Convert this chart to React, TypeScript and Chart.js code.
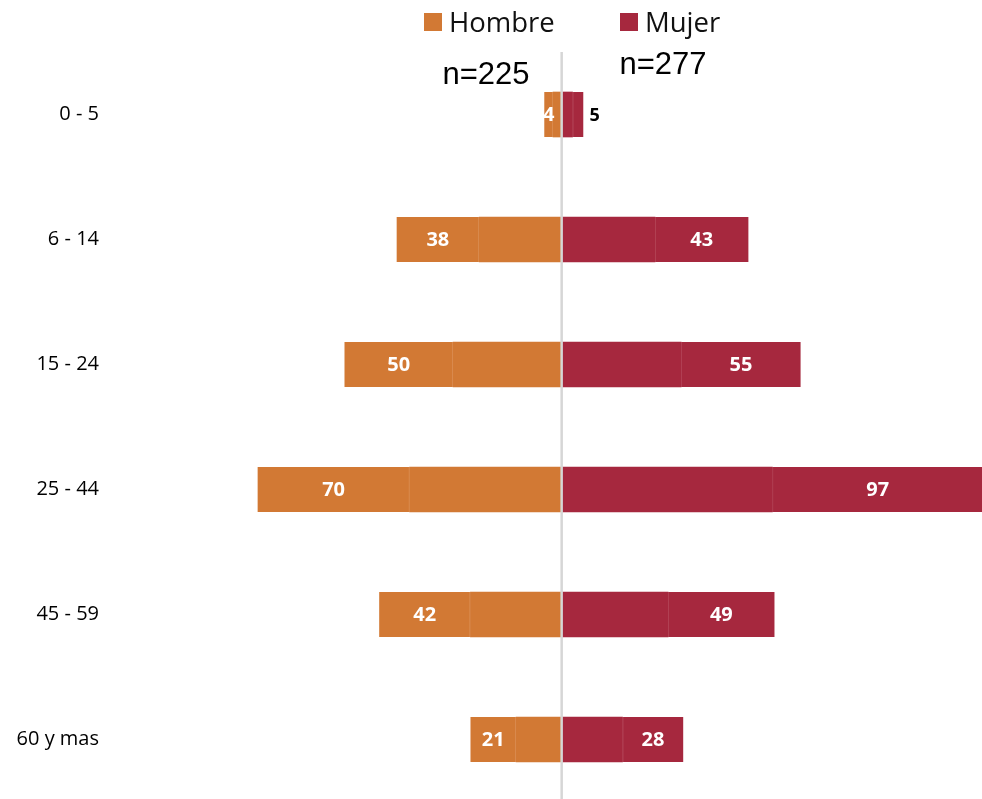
import React, { useEffect, useRef } from "react";
import { Chart, registerables } from "chart.js";

Chart.register(...registerables);

const categories = ["0 - 5", "6 - 14", "15 - 24", "25 - 44", "45 - 59", "60 y mas"];
const hombre = [4, 38, 50, 70, 42, 21];
const mujer = [5, 43, 55, 97, 49, 28];
const seriesNames = ["Hombre", "Mujer"];
const sampleSizes = ["n=225", "n=277"];
const mujerLabelOutside = [true, false, false, false, false, false];

const ORANGE = "rgb(210,121,52)";
const RED = "rgb(166,40,62)";
const ORANGE_EDGE = "rgb(226,160,110)";
const RED_EDGE = "rgb(192,96,112)";

const overlayPlugin = {
  id: "overlay",
  afterDatasetsDraw(chart: any) {
    const { ctx, chartArea } = chart;
    const xs = chart.scales.x;
    const cx = xs.getPixelForValue(0);
    ctx.save();
    ctx.strokeStyle = "#d6d6d6";
    ctx.lineWidth = 2.5;
    ctx.beginPath();
    ctx.moveTo(cx, chartArea.top);
    ctx.lineTo(cx, chart.height);
    ctx.stroke();

    ctx.font = "bold 20px 'Open Sans'";
    ctx.textBaseline = "middle";
    ctx.textAlign = "center";
    const drawLabels = (dsIndex: number, values: number[], outside: boolean[] | null) => {
      const meta = chart.getDatasetMeta(dsIndex);
      meta.data.forEach((el: any, i: number) => {
        const props = el.getProps(["x", "y", "base"], true);
        if (outside && outside[i]) {
          ctx.fillStyle = "#000";
          ctx.textAlign = "left";
          ctx.font = "bold 18px 'Open Sans'";
          ctx.fillText(String(values[i]), Math.max(props.x, props.base) + 6, props.y + 1);
          ctx.font = "bold 20px 'Open Sans'";
          ctx.textAlign = "center";
        } else {
          ctx.fillStyle = "#fff";
          ctx.fillText(String(values[i]), (props.x + props.base) / 2, props.y + 1);
        }
      });
    };
    drawLabels(1, hombre, null);
    drawLabels(3, mujer, mujerLabelOutside);

    ctx.textAlign = "left";
    ctx.textBaseline = "alphabetic";
    ctx.font = "27.5px 'Open Sans'";
    const legendItems = [
      { text: seriesNames[0], color: ORANGE, x: 424 },
      { text: seriesNames[1], color: RED, x: 620 },
    ];
    legendItems.forEach((it) => {
      ctx.fillStyle = it.color;
      ctx.fillRect(it.x, 13, 18, 18);
      ctx.fillStyle = "#111";
      ctx.fillText(it.text, it.x + 25, 32);
    });

    ctx.font = "31px 'Liberation Sans'";
    ctx.textAlign = "center";
    ctx.fillStyle = "#000";
    ctx.fillText(sampleSizes[0], 486, 84);
    ctx.fillText(sampleSizes[1], 663, 74);
    ctx.restore();
  },
};

export default function App() {
  const ref = useRef<HTMLCanvasElement | null>(null);
  useEffect(() => {
    const canvas = ref.current;
    if (!canvas) return;
    const chart = new Chart(canvas, {
      type: "bar",
      data: {
        labels: categories,
        datasets: [
          { label: "Hombre", data: hombre.map((v) => -v), backgroundColor: ORANGE, borderWidth: 0 },
          { label: "Hombre", data: hombre.map((v) => -v), backgroundColor: ORANGE, borderColor: ORANGE_EDGE, borderWidth: { right: 1, left: 0, top: 0, bottom: 0 }, borderSkipped: false },
          { label: "Mujer", data: mujer, backgroundColor: RED, borderWidth: 0 },
          { label: "Mujer", data: mujer, backgroundColor: RED, borderColor: RED_EDGE, borderWidth: { left: 1, right: 0, top: 0, bottom: 0 }, borderSkipped: false },
        ],
      },
      options: {
        indexAxis: "y",
        responsive: false,
        animation: false,
        layout: { padding: { top: 52, left: 0, right: 0, bottom: 0 } },
        plugins: { legend: { display: false }, tooltip: { enabled: false } },
        datasets: { bar: { barThickness: 45 } },
        scales: {
          x: {
            stacked: true,
            display: false,
            min: -207,
            max: 193.5,
          },
          y: {
            stacked: true,
            grid: { display: false },
            border: { display: false },
            ticks: {
              color: "#000",
              padding: 5,
              font: { family: "'Open Sans'", size: 20 },
            },
            afterFit: (scale: any) => {
              scale.width = 112;
            },
          },
        },
      },
      plugins: [overlayPlugin],
    } as any);
    return () => chart.destroy();
  }, []);
  return (
    <div style={{ position: "fixed", left: 0, top: 0, width: 982, height: 799, overflow: "hidden", background: "#fff" }}>
      <canvas ref={ref} width={982} height={819} style={{ display: "block" }} />
    </div>
  );
}
